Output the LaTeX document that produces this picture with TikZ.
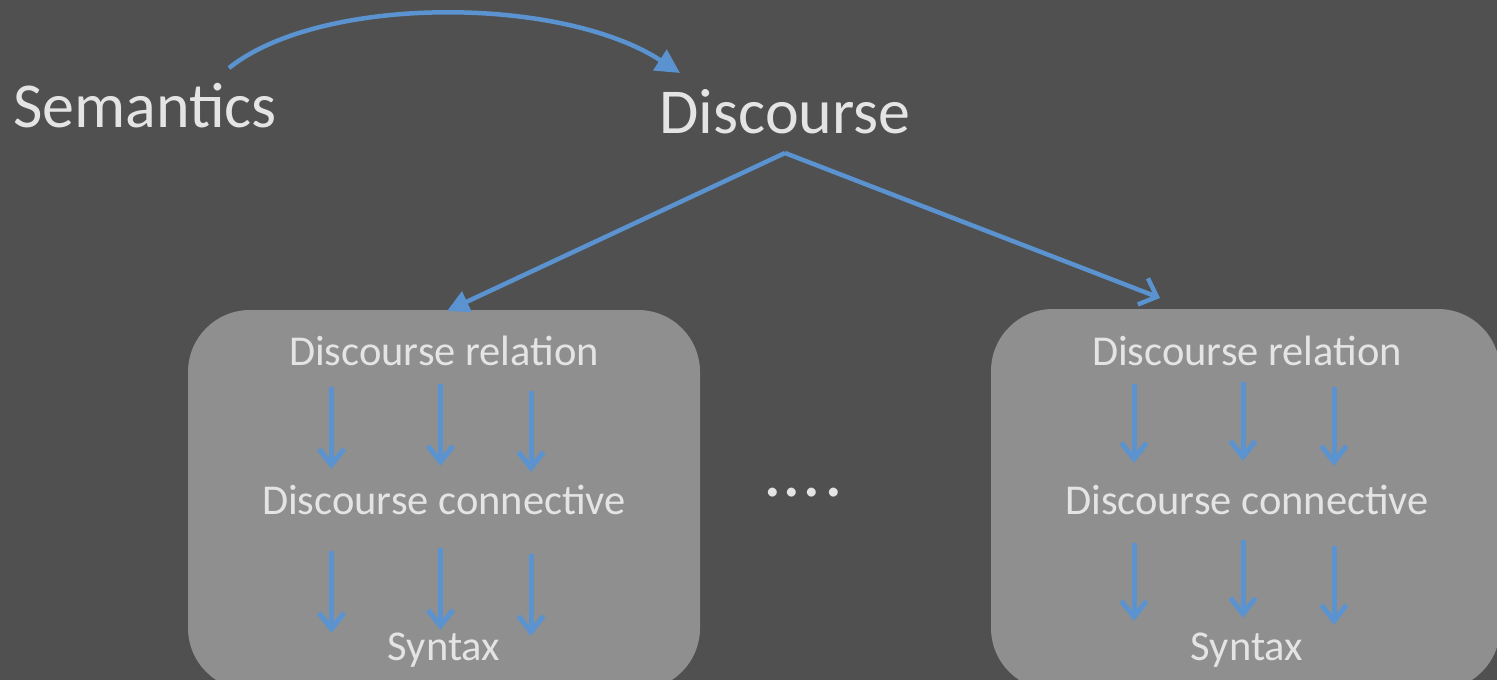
\documentclass[tikz,border=0pt]{standalone}
\usepackage{fontspec}
\setmainfont{Carlito}
\usetikzlibrary{arrows.meta}
\definecolor{bgc}{HTML}{505050}
\definecolor{boxc}{HTML}{8F8F8F}
\definecolor{txtc}{HTML}{E4E4E4}
\definecolor{arrc}{HTML}{5A93CF}
\tikzset{
  bigtxt/.style={text=txtc,font=\fontsize{64}{70}\selectfont,inner sep=0pt},
  boxtxt/.style={text=txtc,font=\fontsize{42.5}{46}\selectfont,inner sep=0pt},
  panel/.style={fill=boxc,draw=none,rounded corners=62pt},
  bigarr/.style={draw=arrc,line width=4.5pt},
  smallarr/.style={draw=arrc,line width=5pt,-{Straight Barb[length=16pt,width=25pt,line width=5pt]}},
}
\begin{document}
\begin{tikzpicture}[x=1pt,y=-1pt]
\useasboundingbox (0,0) rectangle (1497,680);
\fill[bgc] (0,0) rectangle (1497,680);
% panels
\path[panel] (188,310) rectangle (700,690);
\path[panel] (991,309) rectangle (1500,690);
% top texts
\node[bigtxt] (sem) at (145,106) {Semantics};
\node[bigtxt] (disc) at (785,112) {Discourse};
% curved arrow
\coordinate (cs) at (229,68);
\coordinate (ce) at (680,73);
\draw[bigarr,-{Triangle[length=24pt,width=24pt]}] (cs) .. controls (320,-5) and (560,-5) .. (ce);
% V arrows
\coordinate (apex) at (785,153);
\coordinate (lt) at (447,311);
\coordinate (rt) at (1160,298);
\draw[bigarr,-{Triangle[length=22pt,width=22pt]}] (apex) -- (lt);
\draw[bigarr,-{Straight Barb[length=15pt,width=28pt,line width=4.5pt]}] (apex) -- (rt);
% left panel texts
\node[boxtxt] (lrel) at (444,351) {Discourse relation};
\node[boxtxt] (lcon) at (444,500) {Discourse connective};
\node[boxtxt] (lsyn) at (444,650) {Syntax};
% right panel texts
\node[boxtxt] (rrel) at (1247,351) {Discourse relation};
\node[boxtxt] (rcon) at (1247,500) {Discourse connective};
\node[boxtxt] (rsyn) at (1247,650) {Syntax};
% dots
\node[text=txtc,font=\fontsize{74}{80}\selectfont,inner sep=0pt,anchor=base] (dots) at (803,496) {.\kern1pt.\kern1pt.\kern3pt.};
% left small arrows
\coordinate (la1) at (331.5,387); \coordinate (lb1) at (331.5,469);
\coordinate (la2) at (440.5,384); \coordinate (lb2) at (440.5,466);
\coordinate (la3) at (531,391);   \coordinate (lb3) at (531,472);
\coordinate (lc1) at (331.5,551); \coordinate (ld1) at (331.5,633);
\coordinate (lc2) at (440.5,548); \coordinate (ld2) at (440.5,630);
\coordinate (lc3) at (531,554);   \coordinate (ld3) at (531,636);
\foreach \i in {1,2,3}{
  \draw[smallarr] (la\i) -- (lb\i);
  \draw[smallarr] (lc\i) -- (ld\i);
}
% right small arrows
\coordinate (ra1) at (1134,384); \coordinate (rb1) at (1134,463);
\coordinate (ra2) at (1243,382); \coordinate (rb2) at (1243,461);
\coordinate (ra3) at (1334,387); \coordinate (rb3) at (1334,466);
\coordinate (rc1) at (1134,543); \coordinate (rd1) at (1134,621);
\coordinate (rc2) at (1243,540); \coordinate (rd2) at (1243,618);
\coordinate (rc3) at (1334,546); \coordinate (rd3) at (1334,625);
\foreach \i in {1,2,3}{
  \draw[smallarr] (ra\i) -- (rb\i);
  \draw[smallarr] (rc\i) -- (rd\i);
}
\end{tikzpicture}
\end{document}
